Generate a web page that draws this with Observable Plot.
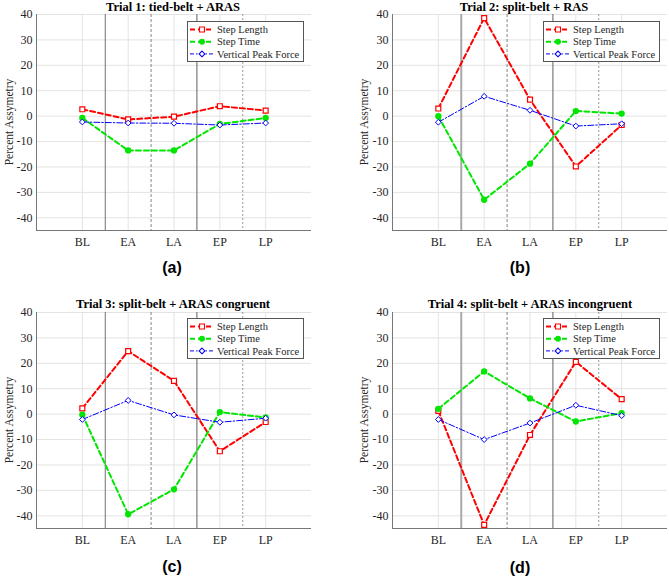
<!DOCTYPE html>
<html><head><meta charset="utf-8">
<script src="https://cdn.jsdelivr.net/npm/d3@7"></script>
<script src="https://cdn.jsdelivr.net/npm/@observablehq/plot@0.6"></script>
<style>
body{margin:0;background:#fff;}
#root{position:relative;width:669px;height:576px;overflow:hidden;font-family:"Liberation Serif",serif;color:#262626;}
#root svg text{font-family:"Liberation Serif",serif !important;}
.panel{position:absolute;}
.title{position:absolute;font-family:"Liberation Serif",serif;font-weight:bold;font-size:12.5px;color:#000;white-space:nowrap;transform:translate(-50%,-50%);}
.plab{position:absolute;font-family:"Liberation Sans",sans-serif;font-weight:bold;font-size:16px;color:#000;transform:translate(-50%,-50%);}
.ylab{position:absolute;font-family:"Liberation Serif",serif;font-size:11.5px;white-space:nowrap;transform:translate(-50%,-50%) rotate(-90deg);}
.legend{position:absolute;width:115px;height:39px;border:1px solid #555;background:#fff;}
</style>
</head><body>
<div id="root"></div>
<script>
// ---- data ----
const phases = ["BL", "EA", "LA", "EP", "LP"];
const seriesNames = ["Step Length", "Step Time", "Vertical Peak Force"];
const titles = [
  "Trial 1: tied-belt + ARAS",
  "Trial 2: split-belt + RAS",
  "Trial 3: split-belt + ARAS congruent",
  "Trial 4: split-belt + ARAS incongruent"
];
const panelLabels = ["(a)", "(b)", "(c)", "(d)"];
const yTicks = [-40, -30, -20, -10, 0, 10, 20, 30, 40];
const yLabel = "Percent Assymetry";

const trial1StepLength = [2.7, -1.3, -0.2, 3.9, 2.2];
const trial1StepTime = [-0.7, -13.5, -13.5, -3.1, -0.7];
const trial1VerticalPeakForce = [-2.3, -2.7, -2.8, -3.5, -2.7];

const trial2StepLength = [3.0, 38.6, 6.5, -19.8, -3.5];
const trial2StepTime = [0.0, -32.9, -18.7, 2.0, 1.0];
const trial2VerticalPeakForce = [-2.4, 7.8, 2.3, -3.9, -3.0];

const trial3StepLength = [2.3, 24.8, 13.1, -14.6, -3.1];
const trial3StepTime = [-0.2, -39.4, -29.6, 0.8, -1.3];
const trial3VerticalPeakForce = [-2.1, 5.4, -0.3, -3.2, -1.6];

const trial4StepLength = [1.3, -43.6, -8.2, 20.6, 5.9];
const trial4StepTime = [2.1, 16.8, 6.2, -2.9, 0.4];
const trial4VerticalPeakForce = [-2.1, -10.0, -3.5, 3.5, -0.6];

// ---- styling ----
const colors = ["#ff0000", "#00e600", "#0000ff"];
const phaseBoundaries = [1.5, 2.5, 3.5, 4.5];
const serif = "Liberation Serif";

const panels = [
  {sl: trial1StepLength, st: trial1StepTime, vpf: trial1VerticalPeakForce, left: 0, top: 0, ml: 36, mr: 24, mt: 14, titleX: 173, titleY: 7, labX: 172, labY: 268, yLabX: 9, legX: 187, legY: 21, thickFirst: false},
  {sl: trial2StepLength, st: trial2StepTime, vpf: trial2VerticalPeakForce, left: 335, top: 0, ml: 57, mr: 3, mt: 14, titleX: 524, titleY: 7, labX: 520, labY: 268, yLabX: 364, legX: 543, legY: 21, thickFirst: true},
  {sl: trial3StepLength, st: trial3StepTime, vpf: trial3VerticalPeakForce, left: 0, top: 290, ml: 36, mr: 24, mt: 22, titleX: 173, titleY: 304, labX: 172, labY: 567, yLabX: 9, legX: 187, legY: 318, thickFirst: false},
  {sl: trial4StepLength, st: trial4StepTime, vpf: trial4VerticalPeakForce, left: 335, top: 290, ml: 57, mr: 3, mt: 22, titleX: 530, titleY: 304, labX: 520, labY: 568, yLabX: 364, legX: 543, legY: 318, thickFirst: true}
];

const root = document.getElementById("root");
const plotH = 216;

function addDiv(cls, text, x, y) {
  const d = document.createElement("div");
  d.className = cls;
  d.textContent = text;
  d.style.left = x + "px";
  d.style.top = y + "px";
  root.appendChild(d);
  return d;
}

panels.forEach((p, i) => {
  const values = [p.sl, p.st, p.vpf];
  const rows = [];
  values.forEach((arr, s) => arr.forEach((v, j) => rows.push({series: seriesNames[s], x: j + 1, y: v})));
  const bySeries = s => rows.filter(r => r.series === seriesNames[s]);
  const height = p.mt + plotH + 30;
  const chart = Plot.plot({
    width: 335,
    height,
    marginLeft: p.ml,
    marginRight: p.mr,
    marginTop: p.mt,
    marginBottom: 30,
    style: {fontFamily: serif, fontSize: "11px", color: "#262626", background: "transparent"},
    x: {domain: [0, 6]},
    y: {domain: [-45, 40]},
    marks: [
      Plot.gridY(yTicks, {stroke: "#e3e3e3", strokeOpacity: 1}),
      Plot.gridX([1, 2, 3, 4, 5], {stroke: "#e3e3e3", strokeOpacity: 1}),
      Plot.ruleX([phaseBoundaries[0]], p.thickFirst ? {stroke: "#a8a8a8", strokeWidth: 2} : {stroke: "#707070", strokeWidth: 1}),
      Plot.ruleX([phaseBoundaries[1]], {stroke: "#666", strokeWidth: 0.8, strokeDasharray: "3,2"}),
      Plot.ruleX([phaseBoundaries[2]], {stroke: "#606060", strokeWidth: 1}),
      Plot.ruleX([phaseBoundaries[3]], {stroke: "#808080", strokeWidth: 0.8, strokeDasharray: "2,2"}),
      Plot.axisY(yTicks, {tickFormat: d => String(d), tickSize: 0, tickPadding: 4, label: null, fontSize: 12, fontFamily: serif}),
      Plot.axisX([1, 2, 3, 4, 5], {tickFormat: d => phases[d - 1], tickSize: 0, tickPadding: 7, label: null, fontSize: 12, fontFamily: serif}),
      Plot.ruleX([0], {stroke: "#777"}),
      Plot.ruleY([-45], {stroke: "#777"}),
      Plot.line(bySeries(0), {x: "x", y: "y", stroke: colors[0], strokeWidth: 2, strokeDasharray: "5,3"}),
      Plot.dot(bySeries(0), {x: "x", y: "y", symbol: "square", r: 2.8, stroke: colors[0], fill: "white", strokeWidth: 1.2}),
      Plot.line(bySeries(1), {x: "x", y: "y", stroke: colors[1], strokeWidth: 2, strokeDasharray: "5,3"}),
      Plot.dot(bySeries(1), {x: "x", y: "y", symbol: "circle", r: 2.4, fill: colors[1], stroke: colors[1]}),
      Plot.line(bySeries(2), {x: "x", y: "y", stroke: colors[2], strokeWidth: 1, strokeDasharray: "6,2,1.5,2"}),
      Plot.dot(bySeries(2), {x: "x", y: "y", symbol: "diamond2", r: 2.6, stroke: colors[2], fill: "white", strokeWidth: 1})
    ]
  });
  chart.classList.add("panel");
  chart.style.left = p.left + "px";
  chart.style.top = p.top + "px";
  root.appendChild(chart);

  addDiv("title", titles[i], p.titleX, p.titleY);
  addDiv("plab", panelLabels[i], p.labX, p.labY);
  addDiv("ylab", yLabel, p.yLabX, p.top + p.mt + plotH / 2);

  // legend
  const leg = document.createElement("div");
  leg.className = "legend";
  leg.style.left = p.legX + "px";
  leg.style.top = p.legY + "px";
  root.appendChild(leg);
  const svg = d3.select(leg).append("svg").attr("width", 115).attr("height", 39).style("display", "block");
  const lineStyles = [
    {w: 2, dash: "5,3"},
    {w: 2, dash: "5,3"},
    {w: 1, dash: "4,2,1.5,2"}
  ];
  const syms = [
    {t: d3.symbolSquare, r: 2.8, fill: "white"},
    {t: d3.symbolCircle, r: 2.4, fill: colors[1]},
    {t: d3.symbolDiamond2, r: 2.6, fill: "white"}
  ];
  seriesNames.forEach((name, s) => {
    const y = 7.5 + s * 12.2;
    svg.append("line").attr("x1", 2).attr("x2", 26).attr("y1", y).attr("y2", y)
      .attr("stroke", colors[s]).attr("stroke-width", lineStyles[s].w).attr("stroke-dasharray", lineStyles[s].dash);
    svg.append("path").attr("transform", `translate(14,${y})`)
      .attr("d", d3.symbol(syms[s].t, Math.PI * syms[s].r * syms[s].r)())
      .attr("fill", syms[s].fill).attr("stroke", colors[s]).attr("stroke-width", 1.1);
    svg.append("text").attr("x", 29).attr("y", y + 3.6).text(name)
      .style("font-family", serif).style("font-size", "10.5px").attr("fill", "#262626");
  });
});
</script>
</body></html>
